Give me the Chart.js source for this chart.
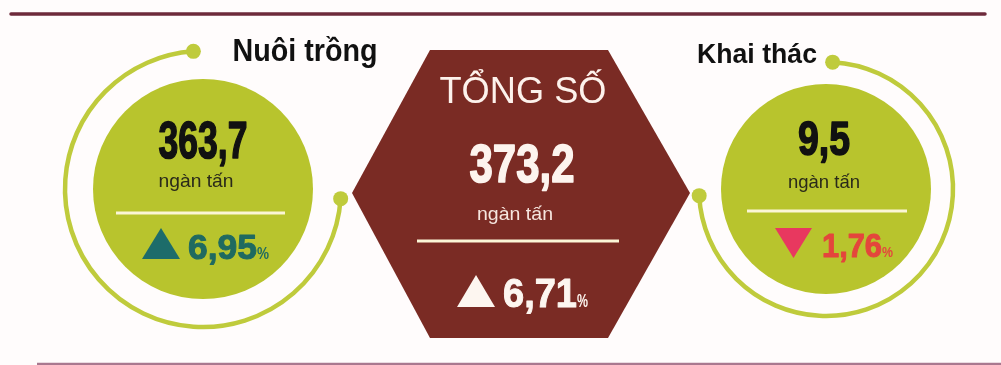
<!DOCTYPE html>
<html lang="vi">
<head>
<meta charset="utf-8">
<title>Sản lượng thủy sản</title>
<script src="https://cdn.jsdelivr.net/npm/chart.js@4/dist/chart.umd.min.js"></script>
<style>
  html, body { margin: 0; padding: 0; background: #fffcfc; }
  #wrap { width: 1001px; height: 365px; }
</style>
</head>
<body>
<div id="wrap"><canvas id="chart" width="1001" height="365"></canvas></div>
<script>
// dữ liệu
const categories = ['Nuôi trồng', 'Tổng số', 'Khai thác'];
const values = [363.7, 373.2, 9.5];
const changes = [6.95, 6.71, -1.76];
const unitLabel = 'ngàn tấn';

// màu
const GREEN = '#b8c42d';
const RING = '#bfcb3c';
const BROWN = '#7a2b24';
const CREAM = '#fbf6d6';
const NARROW = '"Liberation Sans Narrow", "Liberation Sans", Arial, sans-serif';

// bố cục chữ cho từng nhóm (vị trí pixel)
const layout = [
  {
    title: { cx: 305, base: 61, size: 32, w: 145, weight: 'bold', color: '#111' },
    value: { cx: 203, base: 158, size: 52, w: 89, color: '#111' },
    unit: { cx: 196, base: 187, size: 19, w: 75, color: '#2a2a1a' },
    rule: { x1: 116, x2: 285, y: 213 },
    tri: { x1: 142, x2: 180, y1: 228, y2: 259, color: '#1d6c6a' },
    pct: { x: 188, base: 259, size: 35, w: 69, color: '#1f6a60' },
    sign: { x: 257, w: 12, size: 16 },
    ring: { r: 138, from: 4, to: 266 }
  },
  {
    title: { cx: 523, base: 103, size: 36, w: 167, weight: 'normal', color: '#fdf2ec' },
    value: { cx: 522, base: 182, size: 54, w: 105, color: '#fdf4ee' },
    unit: { cx: 515, base: 220, size: 19, w: 76, color: '#f6e6df' },
    rule: { x1: 417, x2: 619, y: 241 },
    tri: { x1: 457, x2: 495, y1: 275, y2: 307, color: '#fdf6f0' },
    pct: { x: 503, base: 307, size: 41, w: 74, color: '#fdf6f0' },
    sign: { x: 577, w: 11, size: 18 }
  },
  {
    title: { cx: 757, base: 63, size: 27, w: 120, weight: 'bold', color: '#111' },
    value: { cx: 824, base: 155, size: 49, w: 52, color: '#111' },
    unit: { cx: 824, base: 188, size: 19, w: 72, color: '#2a2a1a' },
    rule: { x1: 747, x2: 907, y: 211 },
    tri: { x1: 775, x2: 812, y1: 228, y2: 258, color: '#e8385f' },
    pct: { x: 822, base: 257, size: 34, w: 60, color: '#e4463c' },
    sign: { x: 882, w: 11, size: 15 },
    ring: { r: 127, from: -87, to: 177 }
  }
];

const circleRadius = [110, null, 105];

function fmt(v, d) {
  return Math.abs(v).toFixed(d).replace('.', ',');
}

// chữ được co giãn ngang cho vừa bề rộng
function fitText(ctx, str, x, base, font, color, width, align, stroke) {
  ctx.save();
  ctx.font = font;
  const m = ctx.measureText(str).width;
  const sx = width / m;
  ctx.translate(x, base);
  ctx.scale(sx, 1);
  ctx.textAlign = align || 'center';
  ctx.textBaseline = 'alphabetic';
  ctx.fillStyle = color;
  ctx.fillText(str, 0, 0);
  if (stroke) {
    ctx.strokeStyle = color;
    ctx.lineWidth = stroke;
    ctx.lineJoin = 'round';
    ctx.strokeText(str, 0, 0);
  }
  ctx.restore();
}

// hình lục giác làm pointStyle
function makeHexagon() {
  const c = document.createElement('canvas');
  c.width = 351;
  c.height = 298;
  const g = c.getContext('2d');
  g.fillStyle = BROWN;
  g.beginPath();
  g.moveTo(13, 153);
  g.lineTo(91, 10);
  g.lineTo(269, 10);
  g.lineTo(351, 153);
  g.lineTo(269, 298);
  g.lineTo(91, 298);
  g.closePath();
  g.fill();
  return c;
}

const decor = {
  id: 'decor',
  beforeDraw(chart) {
    const ctx = chart.ctx;
    ctx.save();
    ctx.fillStyle = '#fffcfc';
    ctx.fillRect(0, 0, chart.width, chart.height);
    // đường kẻ trên và dưới
    ctx.strokeStyle = '#6e2a3b';
    ctx.lineWidth = 3.5;
    ctx.lineCap = 'round';
    ctx.beginPath();
    ctx.moveTo(11, 14);
    ctx.lineTo(985, 14);
    ctx.stroke();
    ctx.strokeStyle = '#a9788f';
    ctx.lineWidth = 2.5;
    ctx.lineCap = 'butt';
    ctx.beginPath();
    ctx.moveTo(37, 364);
    ctx.lineTo(1001, 364);
    ctx.stroke();
    ctx.restore();
  },
  beforeDatasetsDraw(chart) {
    const ctx = chart.ctx;
    const xs = chart.scales.x, ys = chart.scales.y;
    ctx.save();
    layout.forEach((l, i) => {
      if (!l.ring) return;
      const cx = xs.getPixelForValue(i);
      const cy = ys.getPixelForValue(0);
      const a0 = l.ring.from * Math.PI / 180;
      const a1 = l.ring.to * Math.PI / 180;
      ctx.strokeStyle = RING;
      ctx.lineWidth = 4.5;
      ctx.beginPath();
      ctx.arc(cx, cy, l.ring.r, a0, a1);
      ctx.stroke();
      ctx.fillStyle = RING;
      [a0, a1].forEach(a => {
        ctx.beginPath();
        ctx.arc(cx + l.ring.r * Math.cos(a), cy + l.ring.r * Math.sin(a), 7.5, 0, Math.PI * 2);
        ctx.fill();
      });
    });
    ctx.restore();
  },
  afterDatasetsDraw(chart) {
    const ctx = chart.ctx;
    layout.forEach((l, i) => {
      const t = l.title;
      const title = i === 1 ? categories[i].toUpperCase() : categories[i];
      fitText(ctx, title, t.cx, t.base, `${t.weight} ${t.size}px ${NARROW}`, t.color, t.w, 'center');

      const v = l.value;
      fitText(ctx, fmt(values[i], 1), v.cx, v.base, `bold ${v.size}px ${NARROW}`, v.color, v.w, 'center', 1.6);

      const u = l.unit;
      fitText(ctx, unitLabel, u.cx, u.base, `${u.size}px ${NARROW}`, u.color, u.w, 'center');

      // vạch ngang
      ctx.save();
      ctx.strokeStyle = CREAM;
      ctx.lineWidth = 3;
      ctx.beginPath();
      ctx.moveTo(l.rule.x1, l.rule.y);
      ctx.lineTo(l.rule.x2, l.rule.y);
      ctx.stroke();

      // tam giác tăng / giảm
      const tr = l.tri;
      ctx.fillStyle = tr.color;
      ctx.beginPath();
      if (changes[i] >= 0) {
        ctx.moveTo((tr.x1 + tr.x2) / 2, tr.y1);
        ctx.lineTo(tr.x2, tr.y2);
        ctx.lineTo(tr.x1, tr.y2);
      } else {
        ctx.moveTo(tr.x1, tr.y1);
        ctx.lineTo(tr.x2, tr.y1);
        ctx.lineTo((tr.x1 + tr.x2) / 2, tr.y2);
      }
      ctx.closePath();
      ctx.fill();
      ctx.restore();

      const p = l.pct;
      fitText(ctx, fmt(changes[i], 2), p.x, p.base, `bold ${p.size}px ${NARROW}`, p.color, p.w, 'left', 1);
      fitText(ctx, '%', l.sign.x, p.base, `bold ${l.sign.size}px ${NARROW}`, p.color, l.sign.w, 'left');
    });
  }
};

const circleData = [];
categories.forEach((c, i) => {
  if (circleRadius[i]) circleData.push({ x: i, y: 0, r: circleRadius[i] });
});

new Chart(document.getElementById('chart'), {
  type: 'bubble',
  data: {
    datasets: [
      {
        label: 'vòng tròn',
        data: circleData,
        backgroundColor: GREEN,
        borderWidth: 0,
        clip: false
      },
      {
        type: 'scatter',
        label: 'tổng số',
        data: [{ x: 1, y: 0 }],
        pointStyle: makeHexagon(),
        clip: false
      }
    ]
  },
  options: {
    responsive: false,
    animation: false,
    devicePixelRatio: 1,
    layout: { padding: 0, autoPadding: false },
    events: [],
    plugins: {
      legend: { display: false },
      tooltip: { enabled: false }
    },
    scales: {
      x: { type: 'linear', display: false, min: -0.65169, max: 2.5618 },
      y: { type: 'linear', display: false, min: -0.9312, max: 1 }
    }
  },
  plugins: [decor]
});
</script>
</body>
</html>
